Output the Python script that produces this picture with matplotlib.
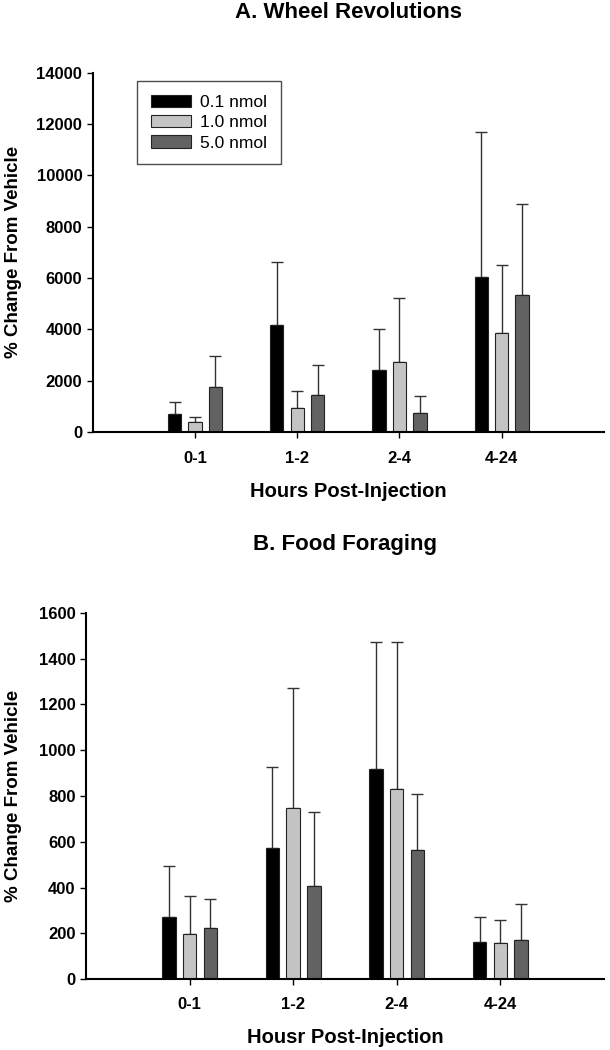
import matplotlib
matplotlib.use('Agg')
import matplotlib.pyplot as plt
import numpy as np

# data
groups = ['0-1', '1-2', '2-4', '4-24']
doses = ['0.1 nmol', '1.0 nmol', '5.0 nmol']
colors = ['#000000', '#c4c4c4', '#626262']

wheel_mean = [
    [700, 4170, 2400, 6030],   # 0.1 nmol
    [380, 950, 2740, 3860],    # 1.0 nmol
    [1770, 1440, 730, 5340],   # 5.0 nmol
]
wheel_upper = [
    [1150, 6630, 4000, 11690],
    [570, 1610, 5220, 6500],
    [2950, 2630, 1390, 8890],
]

food_mean = [
    [270, 574, 918, 162],
    [197, 746, 831, 159],
    [222, 407, 565, 172],
]
food_upper = [
    [494, 926, 1475, 272],
    [362, 1272, 1475, 259],
    [350, 731, 809, 329],
]

plt.rcParams['font.family'] = ['Liberation Sans', 'DejaVu Sans']

fig = plt.figure(figsize=(6.1, 10.5), dpi=100)
ax1 = fig.add_axes([0.152, 0.5886, 0.838, 0.342])
ax2 = fig.add_axes([0.141, 0.0676, 0.849, 0.3486])

x = np.arange(1, len(groups) + 1)
offsets = [-0.2, 0.0, 0.2]
width = 0.13


def draw_panel(ax, means, uppers, ymax, ystep, xlabel):
    for i in range(len(doses)):
        m = np.array(means[i])
        err = np.array(uppers[i]) - m
        ax.bar(x + offsets[i], m, width, color=colors[i], edgecolor='#222222',
               linewidth=0.8, label=doses[i], zorder=2)
        ax.errorbar(x + offsets[i], m, yerr=[np.zeros_like(err), err], fmt='none',
                    ecolor='#333333', elinewidth=1, capsize=4, capthick=1, zorder=1)
    ax.set_xlim(0, 5)
    ax.set_ylim(0, ymax)
    ax.set_yticks(np.arange(0, ymax + 1, ystep))
    ax.set_xticks(x)
    ax.set_xticklabels(groups)
    for s in ['top', 'right']:
        ax.spines[s].set_visible(False)
    for s in ['left', 'bottom']:
        ax.spines[s].set_linewidth(1.5)
    ax.tick_params(axis='both', direction='out', length=4, width=1, labelsize=12)
    for lab in ax.get_xticklabels() + ax.get_yticklabels():
        lab.set_fontweight('bold')
    ax.set_xlabel(xlabel, fontsize=14.5, fontweight='bold')
    ax.set_ylabel('% Change From Vehicle', fontsize=13.5, fontweight='bold')


draw_panel(ax1, wheel_mean, wheel_upper, 14000, 2000, 'Hours Post-Injection')
draw_panel(ax2, food_mean, food_upper, 1600, 200, 'Housr Post-Injection')

ax1.tick_params(axis='x', pad=10)
ax2.tick_params(axis='x', pad=9)
ax1.yaxis.set_label_coords(-0.139, 0.5)
ax2.yaxis.set_label_coords(-0.123, 0.5)
ax1.xaxis.set_label_coords(0.5, -0.138)
ax2.xaxis.set_label_coords(0.5, -0.135)

leg = ax1.legend(loc='upper left', bbox_to_anchor=(0.086, 0.978), borderaxespad=0,
                 fancybox=False, edgecolor='#222222', fontsize=12.5,
                 handlelength=2.3, handleheight=0.7, labelspacing=0.3,
                 borderpad=0.8, handletextpad=0.55)
leg.get_frame().set_linewidth(1)

fig.text(0.571, 0.988, 'A. Wheel Revolutions', ha='center', va='center',
         fontsize=16, fontweight='bold')
fig.text(0.566, 0.481, 'B. Food Foraging', ha='center', va='center',
         fontsize=16, fontweight='bold')

plt.savefig('out.png', dpi=100)
plt.close()
